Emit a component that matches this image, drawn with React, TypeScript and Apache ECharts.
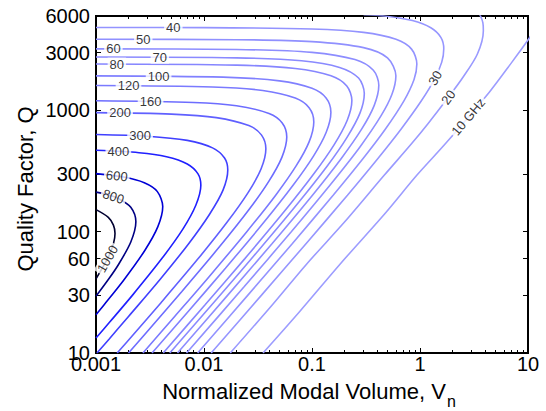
import React, { useEffect, useRef } from 'react';
import * as echarts from 'echarts';

// ---- axis ticks and labels ----
const xTickValues = [0.001, 0.01, 0.1, 1, 10];
const xTickLabels = ['0.001', '0.01', '0.1', '1', '10'];
const xMinorDecades = [0.001, 0.01, 0.1, 1];
const xMinorMultipliers = [2, 3, 4, 5, 6, 7, 8, 9];
const yTickValues = [10, 30, 60, 100, 300, 1000, 3000, 6000];
const yTickLabels = ['10', '30', '60', '100', '300', '1000', '3000', '6000'];

// ---- contour levels (GHz) ----
const contourLevels = [10, 20, 30, 40, 50, 60, 70, 80, 100, 120, 160, 200, 300, 400, 600, 800, 1000];

// ---- contour lines: [Vn, Q] ----
const contour10 = [[0.0352, 10], [0.077, 22], [0.185, 55], [0.47, 140], [0.938, 293], [1.74, 538], [4.4, 1419], [7.1, 2500], [10, 3802], [11.3, 4500]];
const contour20 = [[3.45, 6400], [3.63, 6000], [3.82, 5300], [3.86, 4540], [3.4, 2917], [2.5, 1875], [1.83, 1282], [1.18, 773], [0.83, 528], [0.468, 293], [0.2, 120], [0.089, 54], [0.043, 25], [0.0175, 10]];
const contour30 = [[0.3, 6150], [0.47, 6000], [0.85, 5500], [1.26, 4800], [1.56, 4000], [1.66, 3217], [1.59, 2500], [1.36, 1800], [1.03, 1200], [0.667, 700], [0.406, 400], [0.213, 200], [0.0884, 80], [0.0341, 30], [0.01165, 10]];
const contour40 = [[0.001, 4824], [0.01, 4812], [0.1, 4692], [0.3, 4400], [0.6, 3856], [0.835, 3200], [0.935, 2412], [0.881, 1800], [0.71, 1200], [0.477, 700], [0.296, 400], [0.157, 200], [0.0659, 80], [0.0255, 30], [0.00873, 10]];
const contour50 = [[0.001, 3858], [0.02, 3828], [0.1, 3691], [0.3, 3293], [0.5, 2712], [0.598, 1930], [0.549, 1350], [0.435, 900], [0.278, 500], [0.151, 250], [0.0643, 100], [0.0234, 35], [0.00689, 10]];
const contour60 = [[0.001, 3215], [0.02, 3178], [0.1, 3010], [0.25, 2623], [0.37, 2140], [0.4155, 1608], [0.377, 1100], [0.288, 700], [0.186, 400], [0.101, 200], [0.0428, 80], [0.0166, 30], [0.00568, 10]];
const contour70 = [[0.001, 2755], [0.02, 2711], [0.08, 2563], [0.18, 2262], [0.27, 1847], [0.305, 1379], [0.278, 950], [0.211, 600], [0.139, 350], [0.0734, 170], [0.0319, 70], [0.0132, 28], [0.00482, 10]];
const contour80 = [[0.001, 2410], [0.02, 2360], [0.07, 2216], [0.15, 1928], [0.21, 1590], [0.234, 1206], [0.212, 830], [0.16, 520], [0.104, 300], [0.0565, 150], [0.0239, 60], [0.01024, 25], [0.00419, 10]];
const contour100 = [[0.001, 1927], [0.015, 1880], [0.05, 1752], [0.1, 1521], [0.135, 1266], [0.1496, 965], [0.1354, 660], [0.1032, 420], [0.0665, 240], [0.036, 120], [0.0158, 50], [0.00714, 22], [0.0033, 10]];
const contour120 = [[0.001, 1604], [0.012, 1560], [0.035, 1459], [0.07, 1263], [0.094, 1052], [0.1039, 804], [0.094, 550], [0.0715, 350], [0.0461, 200], [0.0249, 100], [0.011, 42], [0.00535, 20], [0.00272, 10]];
const contour160 = [[0.001, 1201], [0.008, 1163], [0.02, 1092], [0.04, 942], [0.053, 787], [0.0584, 603], [0.0526, 410], [0.0398, 260], [0.0258, 150], [0.0139, 75], [0.00621, 32], [0.00317, 16], [0.002, 10]];
const contour200 = [[0.001, 958], [0.005, 932], [0.013, 872], [0.026, 749], [0.034, 628], [0.0374, 482], [0.0338, 330], [0.0256, 210], [0.0164, 120], [0.00884, 60], [0.004, 26], [0.00219, 14], [0.00157, 10]];
const contour300 = [[0.001, 633.5], [0.003, 613], [0.007, 566], [0.012, 491], [0.0155, 405], [0.0166, 322], [0.015, 220], [0.0113, 140], [0.00724, 80], [0.00388, 40], [0.002, 20], [0.00132, 13], [0.00102, 10]];
const contour400 = [[0.001, 469], [0.0025, 448], [0.0045, 415], [0.007, 362], [0.0088, 300], [0.00935, 241], [0.0084, 165], [0.00637, 105], [0.00407, 60], [0.00218, 30], [0.00134, 18], [0.001, 13.3]];
const contour600 = [[0.001, 301], [0.0018, 282], [0.0028, 253], [0.0037, 214], [0.00415, 161], [0.00374, 110], [0.00283, 70], [0.00181, 40], [0.00119, 25], [0.001, 20.7]];
const contour800 = [[0.001, 211.9], [0.0013, 201], [0.0016, 188.4], [0.0021, 159], [0.00234, 120.6], [0.0021, 82.2], [0.0016, 52.9], [0.0013, 40.3], [0.001, 29.4]];
const contour1000 = [[0.001, 152], [0.0013, 131.4], [0.00145, 113.4], [0.0015, 96.5], [0.00145, 79.6], [0.0013, 61.6], [0.001, 40.9]];

const contourData = [contour10, contour20, contour30, contour40, contour50, contour60, contour70, contour80,
  contour100, contour120, contour160, contour200, contour300, contour400, contour600, contour800, contour1000];

// ---- in-line contour labels ----
const contourLabelTexts = ['40', '50', '60', '70', '80', '100', '120', '160', '200', '300', '400', '600', '800', '1000', '30', '20', '10 GHz'];
const contourLabelPoints = [[0.0052, 4818], [0.00274, 3856], [0.00145, 3214], [0.0039, 2748], [0.00156, 2408], [0.0038, 1918],
  [0.002, 1601], [0.0032, 1190], [0.00167, 954], [0.00256, 618], [0.00161, 461], [0.00156, 288], [0.00145, 195],
  [0.00128, 59.7], [1.38, 1850], [1.83, 1282], [2.8, 885]];
const contourLabelAngles = [0, 0, 0, 0, 0, 0, 0, 0, 0, 0, 0, -6, -18, 60, 60, 54, 50];

const FONT = "'Liberation Sans', Arial, Helvetica, sans-serif";

function levelColor(level: number): string {
  const t = level / 1000;
  if (t <= 0.5) {
    const c = Math.round(160 * (1 - 2 * t));
    return `rgb(${c},${c},255)`;
  }
  const b = Math.round(255 - (255 - 48) * ((t - 0.5) / 0.5));
  return `rgb(0,0,${b})`;
}

function pickLabel(values: number[], labels: string[], v: number): string {
  let best = 0;
  for (let i = 1; i < values.length; i++) {
    if (Math.abs(Math.log10(values[i]) - Math.log10(v)) < Math.abs(Math.log10(values[best]) - Math.log10(v))) best = i;
  }
  return labels[best];
}

export default function App() {
  const ref = useRef<HTMLDivElement>(null);
  useEffect(() => {
    if (!ref.current) return;
    const chart = echarts.init(ref.current, undefined, { renderer: 'svg' });
    const xMinorTicks = xMinorDecades.flatMap((d) => xMinorMultipliers.map((m) => +(m * d).toPrecision(3)));
    const baseX = {
      type: 'log' as const, logBase: 10, min: 0.001, max: 10, gridIndex: 0,
      axisLine: { show: false }, splitLine: { show: false }, minorTick: { show: false },
    };
    const baseY = {
      type: 'log' as const, logBase: 10, min: 10, max: 6000, gridIndex: 0,
      axisLine: { show: false }, splitLine: { show: false }, minorTick: { show: false },
    };
    const tickStyle = { color: '#000', width: 1 };
    const option: any = {
      animation: false,
      grid: { left: 96, right: 18, top: 16, bottom: 58, show: true, borderColor: '#000', borderWidth: 2, backgroundColor: 'transparent' },
      xAxis: [
        { ...baseX, position: 'bottom',
          axisTick: { show: true, inside: true, length: 5, lineStyle: tickStyle, customValues: xTickValues },
          axisLabel: { show: true, customValues: xTickValues, formatter: (v: number) => pickLabel(xTickValues, xTickLabels, v),
            color: '#000', fontSize: 20, fontFamily: FONT, margin: 1 } },
        { ...baseX, position: 'bottom',
          axisTick: { show: true, inside: true, length: 3, lineStyle: tickStyle, customValues: xMinorTicks },
          axisLabel: { show: false } },
        { ...baseX, position: 'top',
          axisTick: { show: true, inside: true, length: 5, lineStyle: tickStyle, customValues: xTickValues },
          axisLabel: { show: false } },
        { ...baseX, position: 'top',
          axisTick: { show: true, inside: true, length: 3, lineStyle: tickStyle, customValues: xMinorTicks },
          axisLabel: { show: false } },
      ],
      yAxis: [
        { ...baseY, position: 'left',
          axisTick: { show: true, inside: true, length: 5, lineStyle: tickStyle, customValues: yTickValues },
          axisLabel: { show: true, customValues: yTickValues, formatter: (v: number) => pickLabel(yTickValues, yTickLabels, v),
            color: '#000', fontSize: 20, fontFamily: FONT, margin: 6 } },
        { ...baseY, position: 'right',
          axisTick: { show: true, inside: true, length: 5, lineStyle: tickStyle, customValues: yTickValues },
          axisLabel: { show: false } },
      ],
      series: [
        ...contourLevels.map((lev, i) => ({
          type: 'line', name: String(lev), xAxisIndex: 0, yAxisIndex: 0,
          data: contourData[i], showSymbol: false, symbol: 'none', smooth: 0.3, clip: true, silent: true, z: 2,
          lineStyle: { color: levelColor(lev), width: 1.6 },
        })),
        {
          type: 'scatter', xAxisIndex: 0, yAxisIndex: 0, symbolSize: 2, silent: true, z: 10,
          itemStyle: { color: 'rgba(0,0,0,0)' },
          data: contourLabelTexts.map((t, i) => ({ value: contourLabelPoints[i], name: t, label: { rotate: contourLabelAngles[i] } })),
          label: { show: true, position: 'inside', formatter: (p: any) => p.name, fontSize: 13, fontFamily: FONT,
            color: '#000', backgroundColor: '#fff', padding: [0, 2] },
        },
      ],
      graphic: [
        { type: 'text', x: 25, y: 189, rotation: Math.PI / 2,
          style: { text: 'Quality Factor, Q', fontSize: 22, fontFamily: FONT, fill: '#000',
            textAlign: 'center', textVerticalAlign: 'middle', align: 'center', verticalAlign: 'middle' } },
        { type: 'text', x: 304, y: 391,
          style: { text: 'Normalized Modal Volume, V', fontSize: 22, fontFamily: FONT, fill: '#000',
            textAlign: 'center', textVerticalAlign: 'middle', align: 'center', verticalAlign: 'middle' } },
        { type: 'text', x: 447, y: 401,
          style: { text: 'n', fontSize: 16, fontFamily: FONT, fill: '#000',
            textAlign: 'left', textVerticalAlign: 'middle', align: 'left', verticalAlign: 'middle' } },
      ],
    };
    chart.setOption(option);
    return () => chart.dispose();
  }, []);
  return <div ref={ref} style={{ position: 'absolute', left: 0, top: 0, width: 546, height: 411 }} />;
}
